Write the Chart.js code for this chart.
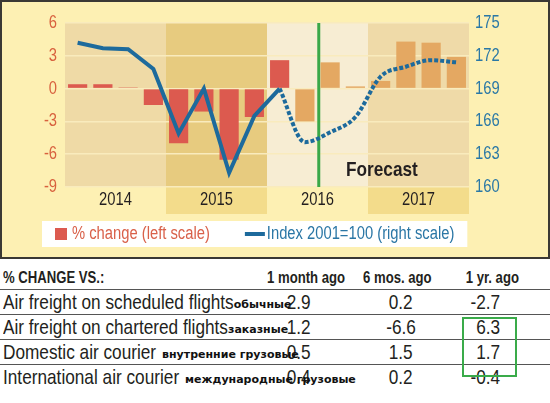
<!DOCTYPE html>
<html>
<head>
<meta charset="utf-8">
<script src="https://cdn.jsdelivr.net/npm/chart.js@4.4.1/dist/chart.umd.min.js"></script>
<style>
  html, body { margin: 0; padding: 0; background: #fff; }
  body { width: 550px; height: 403px; position: relative; overflow: hidden;
         font-family: 'Liberation Sans', Arial, sans-serif; color: #231f20; }
  #quadro { position: absolute; left: 0; top: 0; width: 550px; height: 259px; box-sizing: border-box;
            border: 2px solid #3a3834; background: #fdf0b3; }
  #quadro canvas { display: block; }
  #tabela { position: absolute; left: 0; top: 267px; width: 550px; border-collapse: collapse; table-layout: fixed; }
  #tabela th, #tabela td { padding: 0; white-space: nowrap; overflow: visible; line-height: 22px; }
  #tabela thead th { height: 22px; font-size: 16px; font-weight: bold; border-bottom: 1px solid #555; }
  #tabela tbody td { height: 24px; font-size: 21px; border-bottom: 1px solid #555; }
  #tabela tbody tr:last-child td { border-bottom: none; }
  #tabela .rotulo { text-align: left; padding-left: 3px; }
  #tabela .c2, #tabela .c3 { text-align: center; }
  #tabela .c4 { text-align: right; padding-right: 50px; }
  #tabela th.c2 { text-align: right; padding-right: 18px; }
  #tabela th.c3 { text-align: right; padding-right: 24px; }
  #tabela th.c4 { text-align: right; padding-right: 38px; }
  /* letra estreita: a família Narrow não está instalada */
  .estreito { display: inline-block; transform: scaleX(0.82); }
  .rotulo .estreito { transform-origin: left center; }
  .c2 .estreito, .c3 .estreito { transform-origin: center; }
  .c4 .estreito, th.c2 .estreito, th.c3 .estreito { transform-origin: right center; }
  .nota { position: relative; z-index: 2; font: bold 11px 'DejaVu Sans', sans-serif; color: #111; vertical-align: 1px; }
  .nota.afastada { margin-left: 6px; }
  #destaque { position: absolute; left: 462px; top: 317px; width: 51px; height: 56px; border: 2px solid #3aab4a; }
</style>
</head>
<body>
<div id="quadro"><canvas id="grafico" width="546" height="255"></canvas></div>
<table id="tabela">
  <colgroup><col style="width:250px"><col style="width:98px"><col style="width:106px"><col style="width:96px"></colgroup>
  <thead><tr id="cabecalho"></tr></thead>
  <tbody id="corpo"></tbody>
</table>
<div id="destaque"></div>

<script>
// ===== DADOS DO GRÁFICO =====
const anos = ['2014', '2015', '2016', '2017'];
const trimestres = ['I/14', 'II/14', 'III/14', 'IV/14', 'I/15', 'II/15', 'III/15', 'IV/15',
                    'I/16', 'II/16', 'III/16', 'IV/16', 'I/17', 'II/17', 'III/17', 'IV/17'];
// variação percentual (escala esquerda)
const variacaoPct = [0.4, 0.4, 0.1, -1.5, -5.0, -2.1, -6.5, -2.6, 2.6, -3.0, 2.4, 0.2, 0.7, 4.3, 4.2, 2.9];
// índice 2001=100 (escala direita): parte observada e parte prevista
const indiceReal = [173.2, 172.7, 172.6, 170.8, 164.9, 169.0, 161.3, 166.5, 169.0,
                    null, null, null, null, null, null, null];
const indicePrevisto = [null, null, null, null, null, null, null, null,
                        169.0, 164.1, 165.0, 166.4, 170.1, 171.0, 171.6, 171.4];
const ticksEsquerda = [-9, -6, -3, 0, 3, 6];
const ticksDireita = [160, 163, 166, 169, 172, 175];
const legendaTextos = ['% change (left scale)', 'Index 2001=100 (right scale)'];
const primeiroPrevisto = 9; // primeira barra já prevista (cor clara)

// ===== DADOS DA TABELA =====
const tabelaTitulo = '% CHANGE VS.:';
const tabelaColunas = ['1 month ago', '6 mos. ago', '1 yr. ago'];
const tabelaLinhas = ['Air freight on scheduled flights', 'Air freight on chartered flights',
                      'Domestic air courier', 'International air courier'];
const tabelaNotas = ['обычные', 'заказные', 'внутренние грузовые', 'международные грузовые'];
const valores1Mes = ['2.9', '1.2', '0.5', '0.4'];
const valores6Meses = ['0.2', '-6.6', '1.5', '0.2'];
const valores1Ano = ['-2.7', '6.3', '1.7', '-0.4'];

// ===== CORES E FONTE =====
const CORES = {
  barraReal: '#dc5a4f',
  barraPrevista: '#e4a862',
  linha: '#1d6a9c',
  faixas: ['#efdaa6', '#e7cb7f', '#f7edd3', '#efdaa8'],
  faixasRotulo: [null, '#f3dc8b', null, '#f3dc8b'],
  grade: '#f9ebbd',
  eixoEsq: '#d8613e',
  eixoDir: '#2a78a6',
  previsao: '#3aa848'
};
const FAMILIA = "'Liberation Sans', Arial, sans-serif";
const ESTREITO = 0.82; // fator horizontal para imitar a letra condensada

// ===== TABELA =====
function montarTabela() {
  const s = t => `<span class="estreito">${t}</span>`;
  const cab = document.getElementById('cabecalho');
  cab.innerHTML = `<th class="rotulo">${s(tabelaTitulo)}</th>` +
    tabelaColunas.map((c, i) => `<th class="c${i + 2}">${s(c)}</th>`).join('');
  const corpo = document.getElementById('corpo');
  corpo.innerHTML = tabelaLinhas.map((nome, i) => `
    <tr>
      <td class="rotulo">${s(nome)}<span class="nota${i >= 2 ? ' afastada' : ''}">${tabelaNotas[i]}</span></td>
      <td class="c2">${s(valores1Mes[i])}</td>
      <td class="c3">${s(valores6Meses[i])}</td>
      <td class="c4">${s(valores1Ano[i])}</td>
    </tr>`).join('');
  // o texto encolhido deixa sobra à direita: a nota russa encosta nele
  corpo.querySelectorAll('.rotulo .estreito').forEach(el => {
    el.style.marginRight = -((1 - ESTREITO) * el.offsetWidth) + 'px';
  });
}

// ===== TEXTO CONDENSADO NO CANVAS =====
function condensarTexto(ctx, k) {
  const preencher = ctx.fillText;
  const medir = ctx.measureText;
  ctx.fillText = function (texto, x, y, larguraMax) {
    this.save();
    this.translate(x, y);
    this.scale(k, 1);
    if (larguraMax === undefined) preencher.call(this, texto, 0, 0);
    else preencher.call(this, texto, 0, 0, larguraMax / k);
    this.restore();
  };
  ctx.measureText = function (texto) {
    const m = medir.call(this, texto);
    return { width: m.width * k,
             actualBoundingBoxAscent: m.actualBoundingBoxAscent,
             actualBoundingBoxDescent: m.actualBoundingBoxDescent };
  };
}

// ===== LEGENDA: marcas desenhadas em pequenos canvases =====
function marcaLegenda(cor, larg, alt, x0) {
  const c = document.createElement('canvas');
  c.width = 56; c.height = 16;
  const g = c.getContext('2d');
  g.fillStyle = cor;
  g.fillRect(x0, (16 - alt) / 2, larg, alt);
  return c;
}

// ===== PLUGIN: faixas dos anos, linha de previsão, caixa da legenda =====
const pluginFundo = {
  id: 'fundoAnos',
  beforeDraw(chart) {
    const { ctx, chartArea: area, scales: { x } } = chart;
    const passo = x.getPixelForValue(1) - x.getPixelForValue(0);
    ctx.save();
    anos.forEach((ano, i) => {
      const esq = x.getPixelForValue(i * 4) - passo / 2;
      const dir = x.getPixelForValue(i * 4 + 3) + passo / 2;
      ctx.fillStyle = CORES.faixas[i];
      ctx.fillRect(esq, area.top, dir - esq, area.bottom - area.top);
      if (CORES.faixasRotulo[i]) {
        ctx.fillStyle = CORES.faixasRotulo[i];
        ctx.fillRect(esq, area.bottom, dir - esq, 27);
      }
    });
    // caixa branca atrás da legenda
    const caixas = chart.legend.legendHitBoxes;
    if (caixas && caixas.length) {
      const a = caixas[0], b = caixas[caixas.length - 1];
      const meio = a.top + a.height / 2;
      const esq = a.left + 17;
      ctx.fillStyle = '#ffffff';
      ctx.fillRect(esq, meio - 13, b.left + b.width + 13 - esq, 26);
    }
    ctx.restore();
  },
  beforeDatasetsDraw(chart) {
    const { ctx, chartArea: area, scales: { x } } = chart;
    const px = x.getPixelForValue(9.55);
    ctx.save();
    ctx.strokeStyle = CORES.previsao;
    ctx.lineWidth = 3;
    ctx.beginPath();
    ctx.moveTo(px, area.top);
    ctx.lineTo(px, area.bottom);
    ctx.stroke();
    ctx.restore();
  },
  afterDatasetsDraw(chart) {
    const { ctx, scales: { x, yEsq } } = chart;
    ctx.save();
    ctx.font = 'bold 21px ' + FAMILIA;
    ctx.fillStyle = '#231f20';
    ctx.textAlign = 'center';
    ctx.textBaseline = 'middle';
    ctx.fillText('Forecast', x.getPixelForValue(12.05), yEsq.getPixelForValue(-7.5));
    ctx.restore();
  }
};

// ===== GRÁFICO =====
function criarGrafico() {
  Chart.defaults.font.family = FAMILIA;
  Chart.defaults.font.size = 18;

  const ctx = document.getElementById('grafico').getContext('2d');
  condensarTexto(ctx, ESTREITO);
  const coresBarras = variacaoPct.map((v, i) => i < primeiroPrevisto ? CORES.barraReal : CORES.barraPrevista);

  return new Chart(ctx, {
    type: 'bar',
    data: {
      labels: trimestres,
      datasets: [
        {
          type: 'line', label: 'Index', data: indiceReal, yAxisID: 'yDir',
          borderColor: CORES.linha, borderWidth: 4, pointRadius: 0, tension: 0, order: 1
        },
        {
          type: 'line', label: 'Index (forecast)', data: indicePrevisto, yAxisID: 'yDir',
          borderColor: CORES.linha, borderWidth: 4, borderDash: [4, 2], borderCapStyle: 'butt',
          pointRadius: 0, cubicInterpolationMode: 'monotone', order: 1
        },
        {
          label: '% change', data: variacaoPct, yAxisID: 'yEsq',
          backgroundColor: coresBarras, categoryPercentage: 1, barPercentage: 0.76, order: 2
        }
      ]
    },
    options: {
      responsive: false,
      animation: false,
      layout: { padding: { top: 21, right: 40, bottom: 4, left: 13 } },
      plugins: {
        tooltip: { enabled: false },
        legend: {
          position: 'bottom',
          align: 'start',
          labels: {
            usePointStyle: true,
            pointStyleWidth: 38,
            boxHeight: 18,
            padding: 10,
            font: { size: 18 },
            generateLabels: () => [
              { text: legendaTextos[0], fontColor: '#d9614a', pointStyle: marcaLegenda(CORES.barraReal, 12, 12, 39),
                fillStyle: CORES.barraReal, strokeStyle: 'transparent', lineWidth: 0, datasetIndex: 2 },
              { text: legendaTextos[1], fontColor: '#2a76a5', pointStyle: marcaLegenda(CORES.linha, 20, 4, 34),
                fillStyle: CORES.linha, strokeStyle: 'transparent', lineWidth: 0, datasetIndex: 0 }
            ]
          }
        }
      },
      scales: {
        x: { display: false },
        // eixo só para os anos: uma categoria por ano, centrada no seu bloco de 4 trimestres
        xAnos: {
          type: 'category', position: 'bottom', labels: anos, offset: true,
          grid: { display: false, drawTicks: false }, border: { display: false },
          afterFit: s => { s.height = 28; },
          ticks: { autoSkip: false, maxRotation: 0, padding: 2, color: '#231f20', font: { size: 18 } }
        },
        yEsq: {
          position: 'left', bounds: 'data',
          min: ticksEsquerda[0], max: ticksEsquerda[ticksEsquerda.length - 1],
          afterBuildTicks: s => { s.ticks = ticksEsquerda.map(v => ({ value: v })); },
          afterFit: s => { s.width = 50; },
          grid: { color: CORES.grade, lineWidth: 1.5, drawTicks: false },
          border: { display: false },
          ticks: { autoSkip: false, color: CORES.eixoEsq, padding: 8, font: { size: 18 } }
        },
        yDir: {
          position: 'right', bounds: 'data',
          min: ticksDireita[0], max: ticksDireita[ticksDireita.length - 1],
          afterBuildTicks: s => { s.ticks = ticksDireita.map(v => ({ value: v })); },
          afterFit: s => { s.width = 39; },
          grid: { display: false, drawTicks: false },
          border: { display: false },
          ticks: { autoSkip: false, color: CORES.eixoDir, padding: 6, font: { size: 18 } }
        }
      }
    },
    plugins: [pluginFundo]
  });
}

let grafico;
document.addEventListener('DOMContentLoaded', () => {
  montarTabela();
  grafico = criarGrafico();
});
</script>
</body>
</html>
